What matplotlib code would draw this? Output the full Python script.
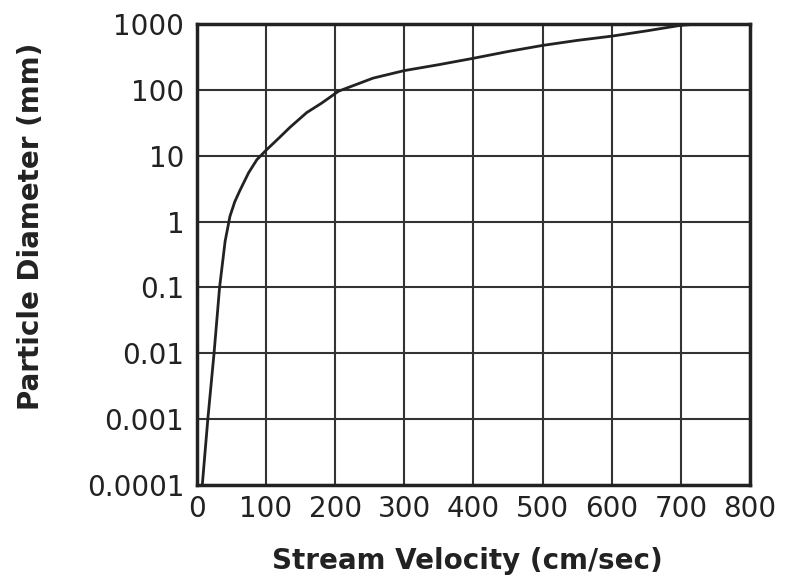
import matplotlib.pyplot as plt
import numpy as np
from matplotlib.ticker import FixedLocator, NullLocator

# stream velocity (cm/sec) vs particle diameter (mm)
velocity = [8, 16, 25, 33, 41, 48, 55, 62, 75, 87, 100, 120, 135, 159, 180, 205, 255, 300, 350, 400, 450, 500, 550, 600, 650, 700, 730, 765]
diameter = [0.0001, 0.001, 0.01, 0.1, 0.5, 1.2, 2.0, 2.9, 5.5, 8.7, 12, 19, 27, 45, 62, 95, 150, 195, 240, 300, 380, 470, 560, 650, 780, 950, 1000, 1000]

yticks = [0.0001, 0.001, 0.01, 0.1, 1, 10, 100, 1000]
ylabels = ['0.0001', '0.001', '0.01', '0.1', '1', '10', '100', '1000']
xticks = [0, 100, 200, 300, 400, 500, 600, 700, 800]

fig = plt.figure(figsize=(7.87, 5.81), dpi=100)
ax = fig.add_axes([0.250, 0.165, 0.703, 0.794])

ax.plot(velocity, diameter, color='#222222', lw=2)

ax.set_yscale('log')
ax.set_xlim(0, 800)
ax.set_ylim(0.0001, 1000)
ax.yaxis.set_major_locator(FixedLocator(yticks))
ax.yaxis.set_minor_locator(NullLocator())
ax.set_yticks(yticks)
ax.set_yticklabels(ylabels)
ax.set_xticks(xticks)
ax.tick_params(length=0, labelsize=20, colors='#222222')
ax.tick_params(axis='y', pad=9)
ax.tick_params(axis='x', pad=7)
ax.grid(True, color='#333333', lw=1.5)

for s in ax.spines.values():
    s.set_linewidth(2.5)
    s.set_color('#222222')

ax.set_xlabel('Stream Velocity (cm/sec)', fontsize=20, fontweight='bold', color='#222222')
ax.set_ylabel('Particle Diameter (mm)', fontsize=20, fontweight='bold', color='#222222')
ax.xaxis.set_label_coords(0.49, -0.135)
ax.yaxis.set_label_coords(-0.275, 0.56)

fig.savefig('out.png', dpi=100)
